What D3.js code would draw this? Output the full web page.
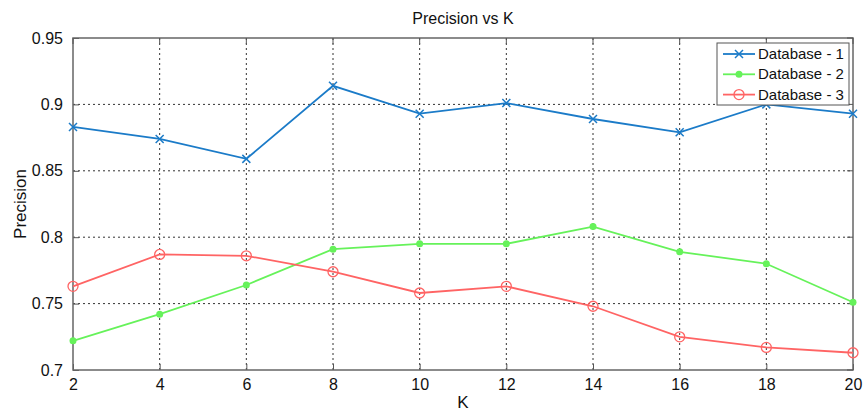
<!DOCTYPE html>
<html lang="en">
<head>
<meta charset="utf-8">
<title>Precision vs K</title>
<script src="https://d3js.org/d3.v7.min.js"></script>
<style>
  body { margin: 0; background: #fff; }
  text { font-family: "Liberation Sans", Arial, sans-serif; fill: #111; }
  .grid line { stroke: #333; stroke-width: 1px; stroke-dasharray: 2,3; }
</style>
</head>
<body>
<svg id="chart" width="865" height="414"></svg>
<script>
var kValues = [2, 4, 6, 8, 10, 12, 14, 16, 18, 20];
var db1 = [0.883, 0.874, 0.859, 0.914, 0.893, 0.901, 0.889, 0.879, 0.900, 0.893];
var db2 = [0.722, 0.742, 0.764, 0.791, 0.795, 0.795, 0.808, 0.789, 0.780, 0.751];
var db3 = [0.763, 0.787, 0.786, 0.774, 0.758, 0.763, 0.748, 0.725, 0.717, 0.713];
var seriesNames = ["Database - 1", "Database - 2", "Database - 3"];
var yTicks = [0.7, 0.75, 0.8, 0.85, 0.9, 0.95];

var colors = ["#1b7bc8", "#66f25a", "#ff6464"];
var markers = ["x", "dot", "circle"];
var series = [db1, db2, db3];

var svg = d3.select("#chart");
var pL = 73, pR = 853, pT = 38, pB = 370;

var x = d3.scaleLinear().domain([2, 20]).range([pL, pR]);
var y = d3.scaleLinear().domain([0.7, 0.95]).range([pB, pT]);

// grid
var grid = svg.append("g").attr("class", "grid");
grid.selectAll(".gx").data(kValues.slice(1, -1)).enter().append("line")
  .attr("x1", d => x(d)).attr("x2", d => x(d))
  .attr("y1", pT).attr("y2", pB);
grid.selectAll(".gy").data(yTicks.slice(1, -1)).enter().append("line")
  .attr("x1", pL).attr("x2", pR)
  .attr("y1", d => y(d)).attr("y2", d => y(d));

// axes
var xAxis = d3.axisBottom(x).tickValues(kValues).tickSize(-6).tickPadding(9).tickFormat(d3.format("d"));
var yAxis = d3.axisLeft(y).tickValues(yTicks).tickSize(-6).tickPadding(10).tickFormat(d => String(+d.toFixed(2)));

var gx = svg.append("g").attr("transform", "translate(0," + pB + ")").call(xAxis);
var gy = svg.append("g").attr("transform", "translate(" + pL + ",0)").call(yAxis);
[gx, gy].forEach(function (g) {
  g.select(".domain").remove();
  g.selectAll(".tick line").attr("stroke", "#555");
  g.selectAll("text").style("font-size", "16px").attr("fill", "#111");
});

// box
svg.append("rect").attr("x", pL).attr("y", pT)
  .attr("width", pR - pL).attr("height", pB - pT)
  .attr("fill", "none").attr("stroke", "#666").attr("stroke-width", 1.5);

// top & right ticks
svg.selectAll(".tt").data(kValues).enter().append("line")
  .attr("x1", d => x(d)).attr("x2", d => x(d))
  .attr("y1", pT).attr("y2", pT + 6).attr("stroke", "#555");
svg.selectAll(".rt").data(yTicks).enter().append("line")
  .attr("x1", pR - 6).attr("x2", pR)
  .attr("y1", d => y(d)).attr("y2", d => y(d)).attr("stroke", "#555");

function drawMarker(g, type, color, cx, cy) {
  if (type === "x") {
    g.append("path").attr("d", "M" + (cx - 4) + "," + (cy - 4) + "L" + (cx + 4) + "," + (cy + 4) +
      "M" + (cx - 4) + "," + (cy + 4) + "L" + (cx + 4) + "," + (cy - 4))
      .attr("stroke", color).attr("stroke-width", 1.5).attr("fill", "none");
  } else if (type === "dot") {
    g.append("circle").attr("cx", cx).attr("cy", cy).attr("r", 3.5).attr("fill", color);
  } else {
    g.append("circle").attr("cx", cx).attr("cy", cy).attr("r", 5)
      .attr("fill", "none").attr("stroke", color).attr("stroke-width", 1.3);
  }
}

var line = d3.line().x((d, i) => x(kValues[i])).y(d => y(d));

series.forEach(function (vals, si) {
  var g = svg.append("g");
  g.append("path").datum(vals).attr("d", line)
    .attr("fill", "none").attr("stroke", colors[si]).attr("stroke-width", 1.8);
  vals.forEach(function (v, i) {
    drawMarker(g, markers[si], colors[si], x(kValues[i]), y(v));
  });
});

// legend
var lg = svg.append("g");
lg.append("rect").attr("x", 717).attr("y", 43).attr("width", 132).attr("height", 62)
  .attr("fill", "#fff").attr("stroke", "#555").attr("stroke-width", 1);
seriesNames.forEach(function (name, i) {
  var ly = 54 + i * 20.3;
  lg.append("line").attr("x1", 723).attr("x2", 755).attr("y1", ly).attr("y2", ly)
    .attr("stroke", colors[i]).attr("stroke-width", 1.8);
  drawMarker(lg, markers[i], colors[i], 739, ly);
  lg.append("text").attr("x", 758).attr("y", ly + 5).style("font-size", "15px").text(name);
});

// titles
svg.append("text").attr("x", 463).attr("y", 24).attr("text-anchor", "middle")
  .style("font-size", "16px").text("Precision vs K");
svg.append("text").attr("x", 463).attr("y", 408).attr("text-anchor", "middle")
  .style("font-size", "17px").text("K");
svg.append("text").attr("transform", "translate(26,204) rotate(-90)").attr("text-anchor", "middle")
  .style("font-size", "17px").text("Precision");
</script>
</body>
</html>
